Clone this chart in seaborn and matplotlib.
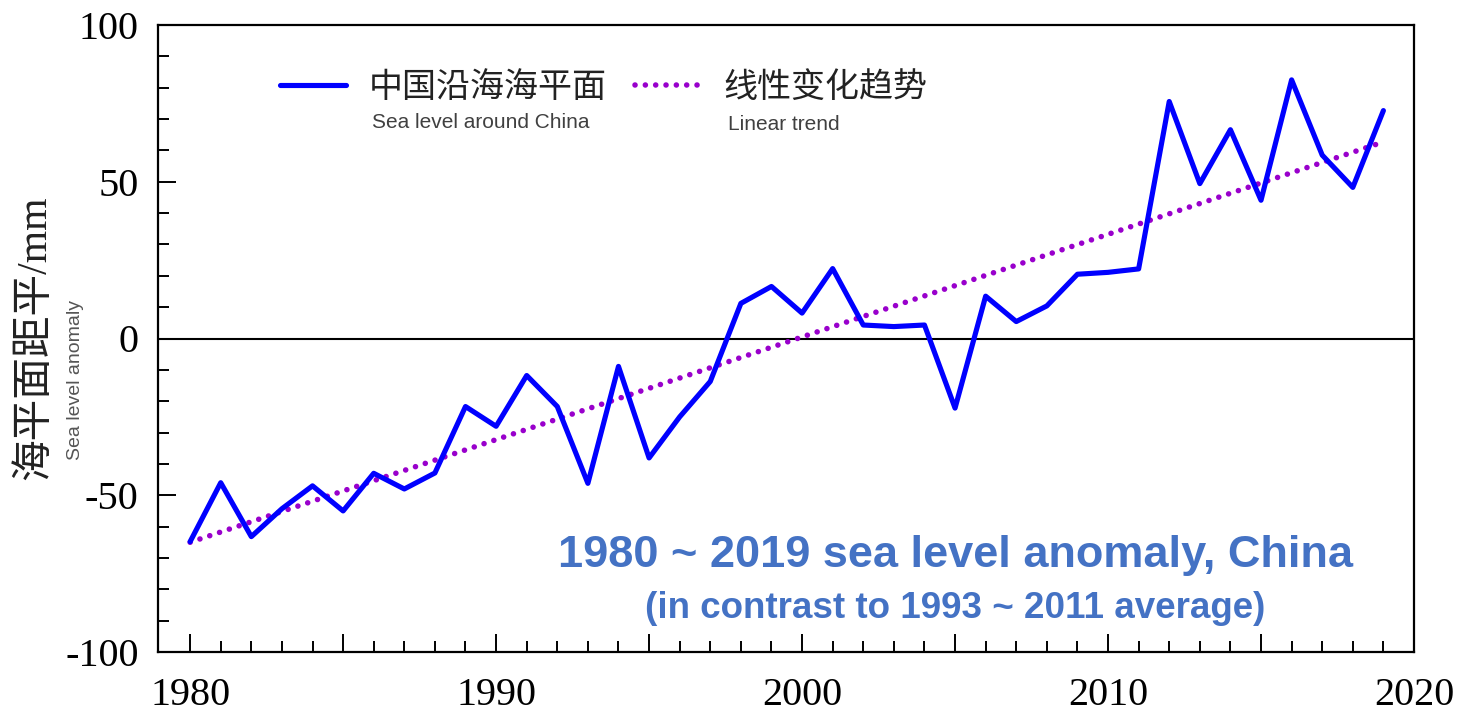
import matplotlib
matplotlib.use("Agg")
import matplotlib.pyplot as plt
from matplotlib.ticker import MultipleLocator
import seaborn as sns
import pandas as pd

# ---- data ----
years = list(range(1980, 2020))
sea_level = [-64.8, -46.0, -63.2, -54.3, -47.0, -55.0, -43.0, -48.0, -42.9, -21.7,
             -28.0, -11.8, -21.7, -46.2, -8.9, -38.1, -25.0, -13.7, 11.2, 16.6,
             8.1, 22.3, 4.3, 3.8, 4.3, -22.2, 13.5, 5.4, 10.4, 20.5,
             21.1, 22.2, 75.6, 49.4, 66.6, 44.1, 82.5, 58.5, 48.2, 72.7]
trend_years = [1980, 2019]
trend_values = [-65.0, 62.7]

x_label_years = [1980, 1990, 2000, 2010, 2020]
x_major_ticks = [1980, 1985, 1990, 1995, 2000, 2005, 2010, 2015, 2020]
y_ticks = [-100, -50, 0, 50, 100]

series_cn = "中国沿海海平面"
series_en = "Sea level around China"
trend_cn = "线性变化趋势"
trend_en = "Linear trend"
ylabel_cn = "海平面距平/mm"
ylabel_en = "Sea level anomaly"
title1 = "1980 ~ 2019 sea level anomaly, China"
title2 = "(in contrast to 1993 ~ 2011 average)"

df = pd.DataFrame({"year": years, "value": sea_level})
df_trend = pd.DataFrame({"year": trend_years, "value": trend_values})

sns.set_style("white")
plt.rcParams["font.family"] = ["Liberation Serif", "Noto Sans CJK SC", "DejaVu Sans"]
plt.rcParams["axes.unicode_minus"] = False

W, H = 1463, 714
fig = plt.figure(figsize=(W / 100, H / 100), dpi=100)
ax = fig.add_axes([158 / W, 1 - 652 / H, (1414 - 158) / W, (652 - 25) / H])

BLUE = "#0000FF"
PURPLE = "#9900CC"

ax.axhline(0, color="black", lw=1.5, zorder=1)
sns.lineplot(data=df_trend, x="year", y="value", ax=ax, color=PURPLE, lw=4.0,
             linestyle=(0, (0.01, 1.85)), dash_capstyle="round", legend=False, zorder=2)
sns.lineplot(data=df, x="year", y="value", ax=ax, color=BLUE, lw=3.7,
             legend=False, zorder=3)

ax.set_ylim(-100, 100)
ax.set_yticks(y_ticks)
ax.yaxis.set_minor_locator(MultipleLocator(10))
ax.set_xticks(x_major_ticks)
ax.set_xticklabels([str(t) if t in x_label_years else "" for t in x_major_ticks])
ax.set_xticks([y for y in years if y not in x_major_ticks], minor=True)
ax.set_xlim(1978.95, 2020)
ax.set_xlabel("")
ax.set_ylabel("")

for s in ax.spines.values():
    s.set_linewidth(1.6)
    s.set_color("black")

ax.tick_params(which="both", direction="in", color="black", width=1.4,
               bottom=True, left=True, top=False, right=False)
ax.tick_params(which="major", length=13, labelsize=29, labelcolor="black")
ax.tick_params(which="minor", length=8)
ax.tick_params(axis="y", which="major", pad=14)
ax.tick_params(axis="x", which="major", pad=18)

for lab in ax.get_xticklabels() + ax.get_yticklabels():
    lab.set_family(["Liberation Serif", "DejaVu Serif"])

# legend
handles = ax.get_lines()
line_handle = [h for h in handles if h.get_color() == BLUE][0]
trend_handle = [h for h in handles if h.get_color() == PURPLE][0]
leg = ax.legend([line_handle, trend_handle], [series_cn, trend_cn], ncol=2,
                loc="center left", bbox_to_anchor=((280 - 158) / 1256, (652 - 87) / 627),
                frameon=False, borderpad=0, borderaxespad=0, handlelength=1.95,
                handletextpad=0.65, columnspacing=0.85,
                prop={"family": ["Noto Sans CJK SC"], "size": 24.5})
for t in leg.get_texts():
    t.set_color("#222222")

ax.text((372 - 158) / 1256, (652 - 123) / 627, series_en, transform=ax.transAxes,
        ha="left", va="center", fontsize=15, color="#404040",
        family=["Liberation Sans", "DejaVu Sans"])
ax.text((728 - 158) / 1256, (652 - 125) / 627, trend_en, transform=ax.transAxes,
        ha="left", va="center", fontsize=15, color="#404040",
        family=["Liberation Sans", "DejaVu Sans"])

# y labels
fig.text(35 / W, 1 - 338 / H, ylabel_cn, rotation=90, ha="center", va="center",
         fontsize=30, color="#222222",
         family=["Liberation Serif", "Noto Sans CJK SC"])
fig.text(75 / W, 1 - 380 / H, ylabel_en, rotation=90, ha="center", va="center",
         fontsize=14, color="#555555", family=["Liberation Sans", "DejaVu Sans"])

# annotation
ax.text((955 - 158) / 1256, (652 - 555) / 627, title1, transform=ax.transAxes,
        ha="center", va="center", fontsize=32.5, fontweight="bold", color="#4472C4",
        family=["Liberation Sans", "DejaVu Sans"])
ax.text((955 - 158) / 1256, (652 - 608) / 627, title2, transform=ax.transAxes,
        ha="center", va="center", fontsize=26.5, fontweight="bold", color="#4472C4",
        family=["Liberation Sans", "DejaVu Sans"])

fig.savefig("out.png", dpi=100)
